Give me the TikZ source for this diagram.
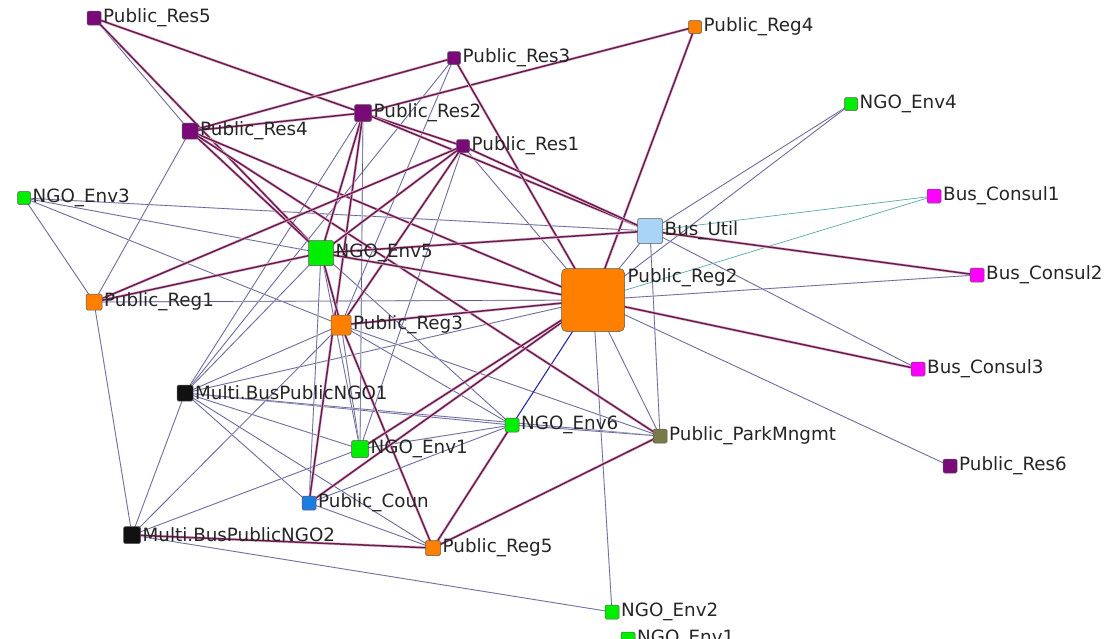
\documentclass[tikz,border=0pt]{standalone}
\usepackage{fontspec}
\setmainfont{DejaVu Sans}
\usetikzlibrary{backgrounds}
\definecolor{cpur}{HTML}{7A0A78}
\definecolor{corg}{HTML}{FF8000}
\definecolor{cgrn}{HTML}{00EE00}
\definecolor{cmag}{HTML}{FF00FF}
\definecolor{cltb}{HTML}{A9D3F7}
\definecolor{coli}{HTML}{7A7A48}
\definecolor{cblu}{HTML}{1E7BE0}
\definecolor{cblk}{HTML}{111111}
\definecolor{thkc}{HTML}{6A1E4E}
\definecolor{thkh}{HTML}{E4BCD6}
\definecolor{thnc}{HTML}{5C5C90}
\definecolor{thnh}{HTML}{D6D6E8}
\definecolor{tealc}{HTML}{5AA8A8}
\definecolor{dblu}{HTML}{2A2AA8}
\begin{document}
\begin{tikzpicture}[x=1pt,y=-1pt,
  nd/.style={draw=black!65, line width=0.5pt, minimum size=#1, inner sep=0pt, outer sep=0pt, rounded corners=1.5pt},
  lb/.style={font=\fontsize{18.3}{18}\selectfont, text=black!85, inner sep=0pt, label distance=2pt},
  thk/.style={draw=thkc, line width=1.5pt, preaction={draw=thkh, line width=2.8pt}},
  thn/.style={draw=thnc, line width=0.6pt, preaction={draw=thnh, line width=1.3pt}},
  tea/.style={draw=tealc, line width=0.7pt},
  dbl/.style={draw=dblu, line width=1.1pt}]
\useasboundingbox (0,0) rectangle (1104,638);
% nodes
\node[nd=14pt, fill=cpur, label={[lb]right:Public\_Res5}] (res5) at (94,18) {};
\node[nd=13pt, fill=cpur, label={[lb]right:Public\_Res3}] (res3) at (454,58) {};
\node[nd=13pt, fill=corg, label={[lb]right:Public\_Reg4}] (reg4) at (695,27) {};
\node[nd=17pt, fill=cpur, label={[lb]right:Public\_Res2}] (res2) at (363,113) {};
\node[nd=16pt, fill=cpur, label={[lb]right:Public\_Res4}] (res4) at (190,131) {};
\node[nd=13pt, fill=cpur, label={[lb]right:Public\_Res1}] (res1) at (463,146) {};
\node[nd=13pt, fill=cgrn, label={[lb]right:NGO\_Env4}] (env4) at (851,104) {};
\node[nd=13pt, fill=cgrn, label={[lb]right:NGO\_Env3}] (env3) at (24,198) {};
\node[nd=14pt, fill=cmag, label={[lb]right:Bus\_Consul1}] (con1) at (934,196) {};
\node[nd=25pt, fill=cltb, label={[lb]right:Bus\_Util}] (util) at (650,231) {};
\node[nd=25pt, fill=cgrn, label={[lb]right:NGO\_Env5}] (env5) at (321,253) {};
\node[nd=14pt, fill=cmag, label={[lb]right:Bus\_Consul2}] (con2) at (977,275) {};
\node[nd=63pt, fill=corg, rounded corners=5pt, label={[lb, anchor=west, yshift=22pt, xshift=1pt]east:Public\_Reg2}] (reg2) at (593,300) {};
\node[nd=16pt, fill=corg, label={[lb]right:Public\_Reg1}] (reg1) at (94,302) {};
\node[nd=20pt, fill=corg, label={[lb]right:Public\_Reg3}] (reg3) at (341,325) {};
\node[nd=14pt, fill=cmag, label={[lb]right:Bus\_Consul3}] (con3) at (918,369) {};
\node[nd=16pt, fill=cblk, label={[lb]right:Multi.BusPublicNGO1}] (mul1) at (185,393) {};
\node[nd=14pt, fill=cgrn, label={[lb]right:NGO\_Env6}] (env6) at (512,425) {};
\node[nd=14pt, fill=coli, label={[lb]right:Public\_ParkMngmt}] (park) at (660,436) {};
\node[nd=17pt, fill=cgrn, label={[lb]right:NGO\_Env1}] (env1) at (360,449) {};
\node[nd=14pt, fill=cpur, label={[lb]right:Public\_Res6}] (res6) at (950,466) {};
\node[nd=14pt, fill=cblu, label={[lb]right:Public\_Coun}] (coun) at (309,503) {};
\node[nd=17pt, fill=cblk, label={[lb]right:Multi.BusPublicNGO2}] (mul2) at (132,535) {};
\node[nd=15pt, fill=corg, label={[lb]right:Public\_Reg5}] (reg5) at (433,548) {};
\node[nd=14pt, fill=cgrn, label={[lb]right:NGO\_Env2}] (env2) at (612,612) {};
\node[nd=14pt, fill=cgrn, label={[lb]right:NGO\_Env1}] (env1b) at (628,639) {};
% edges
\begin{scope}[on background layer]
\fill[white] (0,0) rectangle (1104,638);
\foreach \a/\b in {res5/res4, res4/reg1, res3/reg3, res3/mul1, res1/reg2, res1/env1,
  env3/util, env3/env5, env3/reg3, env3/reg1, reg1/reg2, reg1/mul2,
  env4/util, env4/reg2, con2/reg2, util/con3, util/reg2, util/park,
  reg2/res6, reg2/park, reg2/env2, reg2/mul1, reg3/mul1, reg3/mul2, reg3/env1,
  reg3/env6, reg3/park, mul1/env1, mul1/coun, mul1/env6, mul1/park, mul1/mul2,
  mul1/env5, mul1/res2, mul1/reg5, mul2/env1, mul2/env2, env1/env6, env1/env5,
  coun/env5, coun/reg5, coun/env6, env6/park, res2/env1, env5/env6}
  \draw[thn] (\a.center) -- (\b.center);
\foreach \a/\b in {con1/util, con1/reg2}
  \draw[tea] (\a.center) -- (\b.center);
\draw[dbl] (reg2.center) -- (env6.center);
\foreach \a/\b in {res5/res2, res5/env5, res4/res3, res4/res2, res4/env5, res4/reg2,
  res4/park, res2/reg4, res2/res1, res2/util, res2/env5, res2/coun, res3/reg2,
  reg4/reg2, res1/env5, res1/reg1, res1/reg3, res1/util, reg1/env5, env5/util,
  env5/reg2, env5/reg3, reg3/reg2, reg3/reg5, reg2/coun, reg2/env1, reg2/con3,
  util/con2, reg5/env6, reg5/park, reg5/mul2}
  \draw[thk] (\a.center) -- (\b.center);
\end{scope}
\end{tikzpicture}
\end{document}
